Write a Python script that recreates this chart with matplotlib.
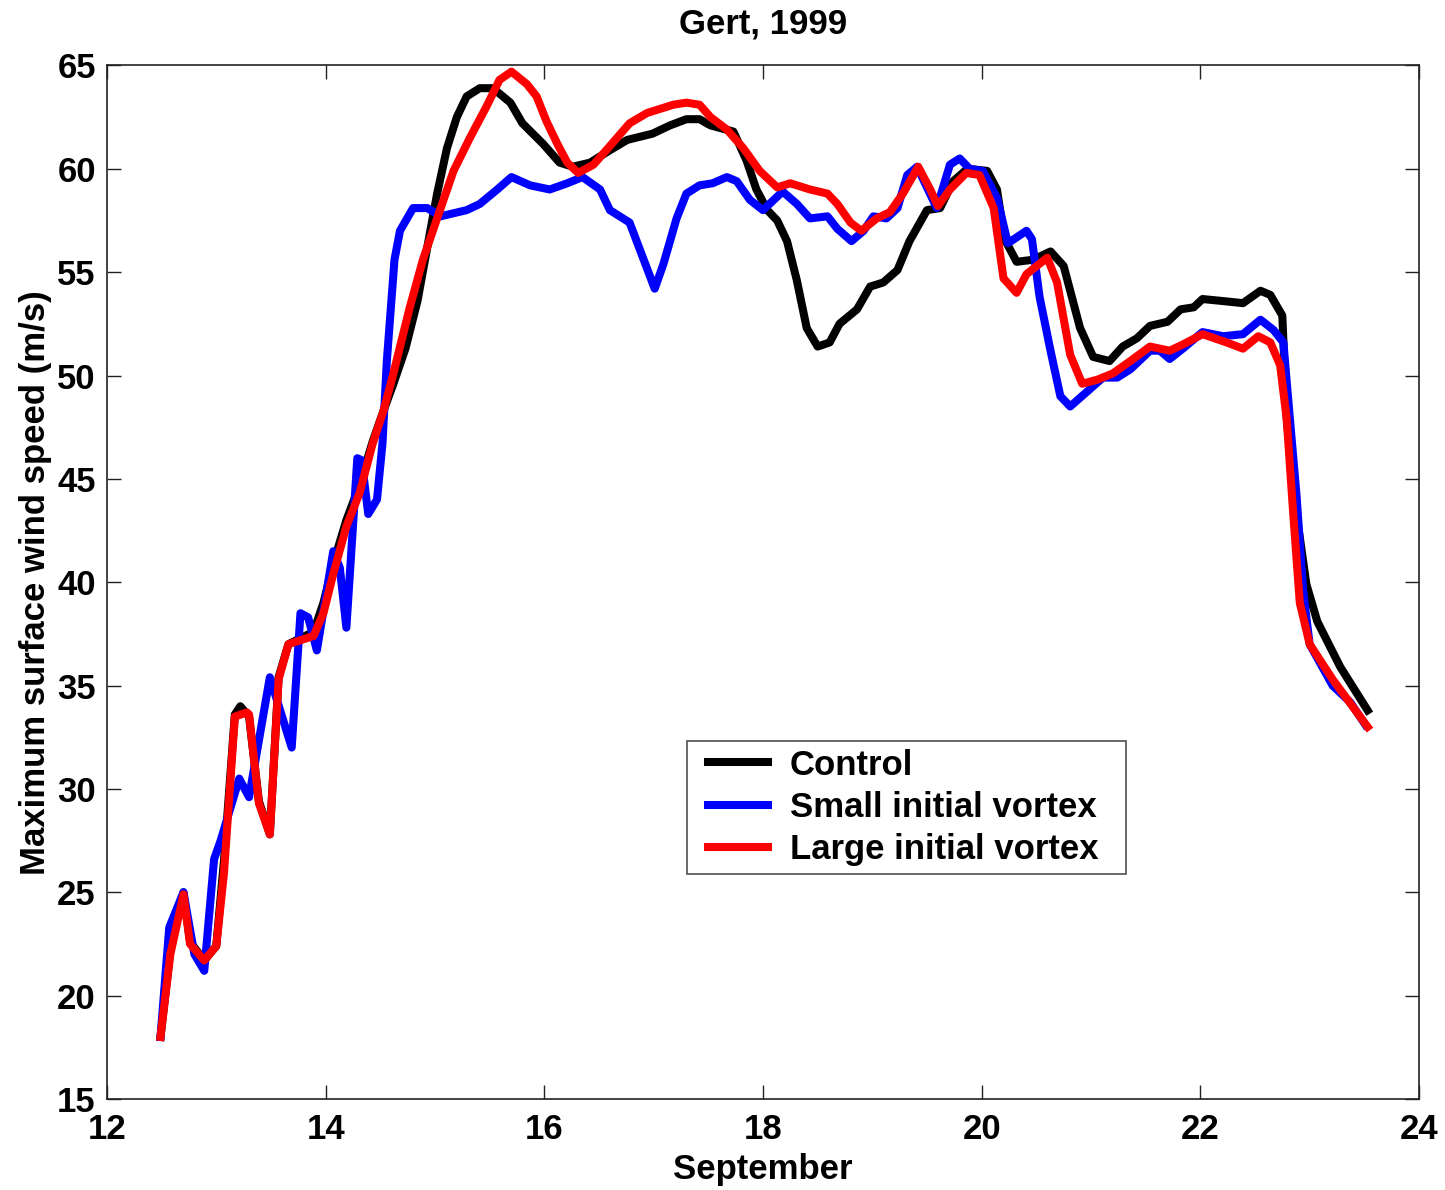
import matplotlib.pyplot as plt
from matplotlib.lines import Line2D
from matplotlib.legend_handler import HandlerLine2D

# Gert (1999) maximum surface wind speed, three model runs
control_day = [12.49, 12.58, 12.70, 12.76, 12.89, 13.00, 13.07, 13.17, 13.22, 13.30,
               13.39, 13.49, 13.57, 13.66, 13.89, 13.98, 14.07, 14.19, 14.31, 14.43,
               14.53, 14.62, 14.73, 14.84, 14.93, 15.02, 15.11, 15.20, 15.29, 15.41,
               15.53, 15.69, 15.80, 15.99, 16.14, 16.26, 16.42, 16.60, 16.76, 16.99,
               17.15, 17.30, 17.42, 17.52, 17.73, 17.85, 17.94, 18.04, 18.13, 18.22,
               18.31, 18.40, 18.50, 18.61, 18.70, 18.86, 18.98, 19.10, 19.23, 19.34,
               19.50, 19.62, 19.74, 19.87, 20.05, 20.14, 20.21, 20.32, 20.47, 20.63,
               20.75, 20.90, 21.02, 21.17, 21.29, 21.42, 21.54, 21.70, 21.82, 21.94,
               22.02, 22.21, 22.39, 22.55, 22.64, 22.75, 22.79, 22.88, 22.97, 23.07,
               23.28, 23.53]
control_wind = [18.0, 22.2, 25.0, 22.6, 21.7, 22.4, 26.5, 33.6, 34.0, 33.5,
                29.4, 27.8, 35.4, 37.0, 37.6, 39.0, 40.9, 43.0, 44.7, 46.8,
                48.3, 49.6, 51.3, 53.6, 56.2, 58.8, 61.0, 62.5, 63.5, 63.9,
                63.9, 63.2, 62.2, 61.2, 60.3, 60.1, 60.3, 60.9, 61.4, 61.7,
                62.1, 62.4, 62.4, 62.1, 61.8, 60.4, 59.0, 58.0, 57.5, 56.5,
                54.6, 52.3, 51.4, 51.6, 52.5, 53.2, 54.3, 54.5, 55.1, 56.5,
                58.0, 58.1, 59.4, 60.0, 59.9, 59.0, 56.6, 55.5, 55.6, 56.0,
                55.3, 52.3, 50.9, 50.7, 51.4, 51.8, 52.4, 52.6, 53.2, 53.3,
                53.7, 53.6, 53.5, 54.1, 53.9, 52.9, 47.9, 43.3, 39.9, 38.1,
                35.9, 33.8]

small_day = [12.49, 12.57, 12.70, 12.80, 12.89, 12.98, 13.04, 13.21, 13.30, 13.49,
             13.69, 13.77, 13.84, 13.92, 14.07, 14.13, 14.19, 14.25, 14.29, 14.33,
             14.39, 14.47, 14.52, 14.56, 14.63, 14.68, 14.80, 14.93, 15.05, 15.29,
             15.41, 15.57, 15.70, 15.87, 16.05, 16.21, 16.35, 16.51, 16.60, 16.78,
             17.01, 17.09, 17.21, 17.30, 17.42, 17.54, 17.67, 17.76, 17.88, 18.00,
             18.18, 18.31, 18.43, 18.59, 18.68, 18.81, 18.92, 19.01, 19.13, 19.23,
             19.32, 19.41, 19.59, 19.71, 19.80, 19.89, 20.01, 20.14, 20.24, 20.41,
             20.46, 20.53, 20.63, 20.72, 20.81, 20.96, 21.11, 21.24, 21.36, 21.54,
             21.63, 21.72, 21.84, 22.02, 22.21, 22.39, 22.55, 22.67, 22.76, 22.79,
             22.88, 22.94, 23.00, 23.21, 23.37, 23.51]
small_wind = [18.0, 23.3, 25.0, 22.0, 21.2, 26.6, 27.5, 30.5, 29.6, 35.4,
              32.0, 38.5, 38.3, 36.7, 41.5, 40.7, 37.8, 42.7, 46.0, 45.9,
              43.3, 44.0, 46.7, 50.7, 55.6, 57.0, 58.1, 58.1, 57.7, 58.0,
              58.3, 59.0, 59.6, 59.2, 59.0, 59.3, 59.6, 59.0, 58.0, 57.4,
              54.2, 55.4, 57.6, 58.8, 59.2, 59.3, 59.6, 59.4, 58.5, 58.0,
              58.9, 58.3, 57.6, 57.7, 57.1, 56.5, 57.0, 57.7, 57.6, 58.1,
              59.7, 60.1, 58.1, 60.2, 60.5, 60.0, 59.9, 58.6, 56.4, 57.0,
              56.6, 53.8, 51.2, 49.0, 48.5, 49.2, 49.9, 49.9, 50.3, 51.2,
              51.2, 50.8, 51.3, 52.1, 51.9, 52.0, 52.7, 52.2, 51.6, 49.7,
              44.2, 39.6, 37.0, 35.0, 34.2, 33.1]

large_day = [12.49, 12.58, 12.70, 12.76, 12.89, 13.00, 13.07, 13.17, 13.28, 13.30,
             13.39, 13.49, 13.57, 13.66, 13.89, 13.98, 14.07, 14.19, 14.31, 14.43,
             14.53, 14.62, 14.77, 14.89, 15.02, 15.17, 15.32, 15.48, 15.59, 15.70,
             15.84, 15.93, 16.02, 16.12, 16.21, 16.31, 16.45, 16.60, 16.78, 16.94,
             17.18, 17.30, 17.42, 17.52, 17.67, 17.82, 17.97, 18.13, 18.25, 18.43,
             18.59, 18.68, 18.80, 18.90, 19.04, 19.16, 19.28, 19.42, 19.53, 19.60,
             19.71, 19.86, 19.98, 20.11, 20.20, 20.32, 20.41, 20.60, 20.69, 20.81,
             20.92, 21.06, 21.20, 21.36, 21.54, 21.72, 21.84, 22.02, 22.24, 22.39,
             22.53, 22.64, 22.73, 22.79, 22.85, 22.91, 23.00, 23.21, 23.53]
large_wind = [18.0, 22.0, 24.9, 22.5, 21.7, 22.4, 25.9, 33.5, 33.7, 33.6,
              29.3, 27.8, 35.3, 37.0, 37.4, 38.5, 40.4, 42.7, 44.3, 46.7,
              48.3, 50.1, 53.3, 55.6, 57.6, 59.9, 61.5, 63.1, 64.3, 64.7,
              64.1, 63.5, 62.3, 61.2, 60.3, 59.8, 60.2, 61.1, 62.2, 62.7,
              63.1, 63.2, 63.1, 62.5, 61.9, 61.0, 59.9, 59.1, 59.3, 59.0,
              58.8, 58.3, 57.4, 57.0, 57.6, 57.9, 58.8, 60.1, 59.0, 58.2,
              59.0, 59.8, 59.7, 58.1, 54.7, 54.0, 54.9, 55.7, 54.5, 51.0,
              49.6, 49.8, 50.1, 50.7, 51.4, 51.2, 51.5, 52.0, 51.6, 51.3,
              51.9, 51.6, 50.5, 47.9, 43.3, 39.0, 37.0, 35.3, 33.0]

plt.rcParams['font.family'] = ['Liberation Sans', 'DejaVu Sans']

fig = plt.figure(figsize=(14.45, 11.9), dpi=100)
ax = fig.add_axes([0.074, 0.0765, 0.908, 0.8685])

lw = 5.8
ax.plot(control_day, control_wind, color='black', lw=lw, label='Control')
ax.plot(small_day, small_wind, color='#0000ff', lw=lw, label='Small initial vortex')
ax.plot(large_day, large_wind, color='#ff0000', lw=lw, label='Large initial vortex')

fs = 25
ax.set_xlim(12, 24)
ax.set_ylim(15, 65)
ax.set_xticks(range(12, 25, 2))
ax.set_yticks(range(15, 66, 5))
ax.tick_params(direction='in', length=10, width=1, top=True, right=True,
               labelsize=fs, color='#222222')
ax.tick_params(axis='x', pad=10)
ax.tick_params(axis='y', pad=8)
for lab in ax.get_xticklabels() + ax.get_yticklabels():
    lab.set_fontweight('bold')
for sp in ax.spines.values():
    sp.set_linewidth(1.2)
    sp.set_color('#222222')

ax.set_xlabel('September', fontsize=fs, fontweight='bold', labelpad=5)
ax.set_ylabel('Maximum surface wind speed (m/s)', fontsize=fs, fontweight='bold', labelpad=4)
ax.set_title('Gert, 1999', fontsize=fs, fontweight='bold', pad=23)

# legend handles indented a little from the frame
leg = ax.legend(loc='lower left', bbox_to_anchor=(0.442, 0.218, 0.335, 0.128),
                mode='expand', borderaxespad=0, fontsize=fs, frameon=True,
                fancybox=False, handlelength=2.13, handletextpad=0.63,
                labelspacing=0.27, borderpad=0.21,
                handler_map={Line2D: HandlerLine2D(xpad=0.4)})
leg.get_frame().set_edgecolor('#222222')
leg.get_frame().set_linewidth(1.2)
for t in leg.get_texts():
    t.set_fontweight('bold')

fig.savefig('out.png', dpi=100)
